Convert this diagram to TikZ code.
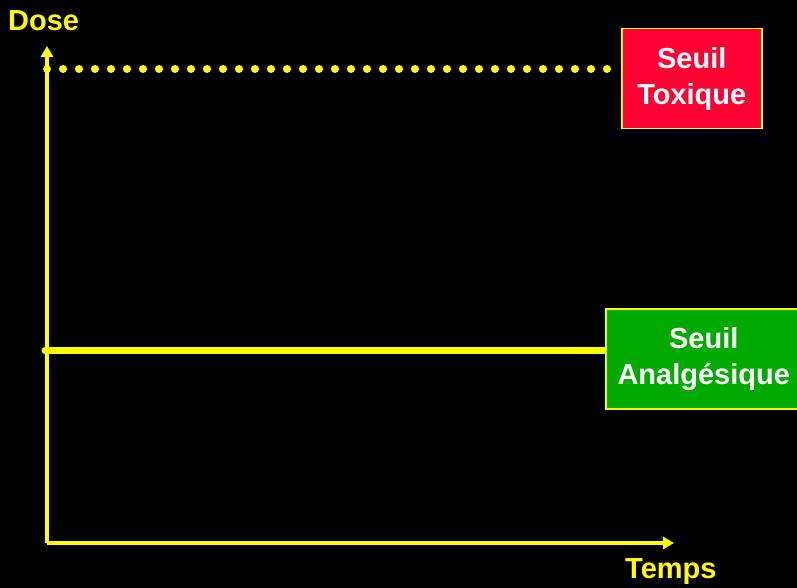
\documentclass[tikz,border=0pt]{standalone}
\usepackage{fontspec}
\setmainfont{Liberation Sans}
\usetikzlibrary{arrows.meta}
\definecolor{axisyellow}{RGB}{255,255,0}
\definecolor{toxred}{RGB}{255,0,51}
\definecolor{analggreen}{RGB}{0,170,0}
\tikzset{
  axisline/.style={draw=axisyellow, line width=3.5pt, -{Triangle[length=11pt,width=12pt]}},
  axislabel/.style={text=axisyellow, font=\bfseries\fontsize{29}{36}\selectfont, inner sep=0pt},
  threshbox/.style={draw=axisyellow, line width=1.5pt, text=white, align=center,
    font=\bfseries\fontsize{29}{36}\selectfont, inner sep=0pt},
  toxline/.style={draw=axisyellow, line width=8pt, line cap=round, dash pattern=on 0pt off 16pt},
  analgline/.style={draw=axisyellow, line width=7pt}
}
\begin{document}
\begin{tikzpicture}[x=1pt,y=-1pt]
  \fill[black] (0,0) rectangle (797,588);
  \useasboundingbox (0,0) rectangle (797,588);
  \clip (0,0) rectangle (797,588);

  % axes
  \coordinate (origin) at (47,543);
  \coordinate (ytop) at (47,46);
  \coordinate (xend) at (674,543);
  \draw[axisline] (origin) -- (ytop);
  \draw[axisline] (origin) -- (xend);
  \node[axislabel, anchor=base west] (dose) at (8,31) {Dose};
  \node[axislabel, anchor=base west] (temps) at (625,578) {Temps};

  % thresholds
  \node[threshbox, fill=toxred, minimum width=140pt, minimum height=100pt, anchor=north west]
    (tox) at (621,28) {Seuil\\Toxique};
  \node[threshbox, fill=analggreen, minimum width=198pt, minimum height=100pt, anchor=north west,
    text width=192pt, align=left] (analg) at (605,308)
    {\hspace*{8pt}\makebox[174pt][c]{Seuil}\\\hspace*{8pt}\makebox[174pt][c]{Analgésique}};

  \coordinate (toxstart) at (47,69);
  \coordinate (toxend) at (608,69);
  \draw[toxline] (toxstart) -- (toxend);

  \coordinate (analgstart) at (45,350.5);
  \fill[axisyellow] (analgstart) circle (3.5pt);
  \draw[analgline] (analgstart) -- (analg.west |- analgstart);
\end{tikzpicture}
\end{document}
